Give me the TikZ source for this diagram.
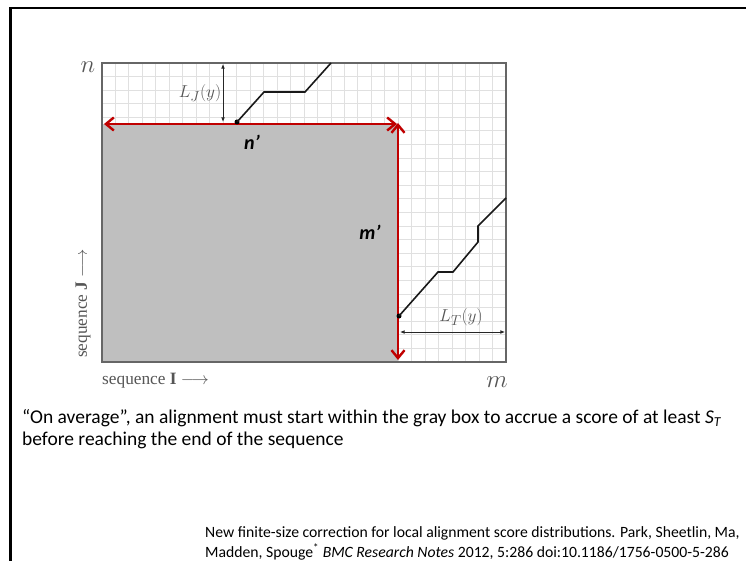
\documentclass[tikz,border=0pt]{standalone}
\usepackage{fontspec}
\setmainfont{Carlito}
\newfontfamily\figfont{Liberation Serif}
\usepackage{tikz}
\usetikzlibrary{arrows.meta,positioning,calc}
\definecolor{slidered}{HTML}{C00000}
\definecolor{boxgray}{HTML}{BFBFBF}
\definecolor{gridgray}{HTML}{E0E0E0}
\definecolor{labelgray}{HTML}{555555}
\tikzset{
  frameline/.style={line width=2.6pt, draw=black},
  gridline/.style={draw=gridgray, line width=0.9pt},
  plotframe/.style={draw=black!60, line width=1.4pt},
  redarrow/.style={{Straight Barb[length=2.8mm,width=4.6mm]}-{Straight Barb[length=2.8mm,width=4.6mm]}, draw=slidered, line width=2.4pt},
  walk/.style={draw=black!90, line width=1.6pt},
  dimarrow/.style={{Latex[length=1.6mm,width=1.3mm]}-{Latex[length=1.6mm,width=1.3mm]}, draw=black!85, line width=0.8pt},
  axislabel/.style={font=\figfont\fontsize{17.3}{18}\selectfont, text=labelgray, inner sep=0pt},
  primelabel/.style={font=\fontsize{20}{22}\selectfont\bfseries\itshape, inner sep=0pt},
  dot/.style={circle, fill=black, inner sep=0pt, minimum size=5pt}
}
\begin{document}
\begin{tikzpicture}[x=1pt, y=-1pt]
  \useasboundingbox (0,0) rectangle (746,561);
  \draw[frameline] (10.5,570) -- (10.5,8) -- (760,8);

  % grid and gray region
  \coordinate (nw) at (102,63);
  \coordinate (se) at (506,362);
  \coordinate (boxtl) at (102,124);
  \coordinate (boxbr) at (398,362);
  \foreach \k in {1,...,29} \draw[gridline] (102+13.47*\k,63) -- (102+13.47*\k,362);
  \foreach \k in {1,...,21} \draw[gridline] (102,63+13.59*\k) -- (506,63+13.59*\k);
  \fill[boxgray] (boxtl) rectangle (boxbr);
  \draw[plotframe] (nw) rectangle (se);

  % red extents
  \coordinate (hl) at (104,124);
  \coordinate (hr) at (397,124);
  \coordinate (vt) at (398,123);
  \coordinate (vb) at (398,360);
  \draw[redarrow] (hl) -- (hr);
  \draw[redarrow] (vt) -- (vb);

  % alignment walks
  \node[dot] (startJ) at (237,122) {};
  \node[dot] (startT) at (399,316) {};
  \coordinate (endJ) at (331,63);
  \coordinate (endT) at (506,198);
  \draw[walk] (startJ.center) -- (264,92) -- (305,92) -- (endJ);
  \draw[walk] (startT.center) -- (438,272) -- (453,272) -- (478,242) -- (478,226) -- (endT);

  % distances
  \coordinate (ljtop) at (223,64);
  \coordinate (ljbot) at (223,122);
  \coordinate (ltl) at (400,332);
  \coordinate (ltr) at (505,332);
  \draw[dimarrow] (ljtop) -- (ljbot);
  \draw[dimarrow] (ltl) -- (ltr);
  \node[axislabel, font=\fontsize{19}{20}\selectfont] (lj) at (200,93) {$L_{J}(y)$};
  \node[axislabel, font=\fontsize{19}{20}\selectfont] (lt) at (461,317) {$L_{T}(y)$};

  % labels
  \node[primelabel] (nprime) at (252,142) {n'};
  \node[primelabel] (mprime) at (370,232) {m'};
  \node[axislabel, font=\fontsize{25}{25}\selectfont] (nlab) at (88,67) {$n$};
  \node[axislabel, font=\fontsize{25}{25}\selectfont] (mlab) at (497,382) {$m$};
  \node[axislabel, anchor=west] (seqI) at (102,381) {sequence \textbf{I} $\longrightarrow$};
  \node[axislabel, rotate=90, anchor=west] (seqJ) at (83,358) {sequence \textbf{J} $\longrightarrow$};

  % caption and reference
  \node[anchor=north west, align=left, inner sep=0pt, font=\fontsize{19.5}{22}\selectfont] (caption) at (22,409)
    {``On average'', an alignment must start within the gray box to accrue a score of at least \textit{S}\textsubscript{\textit{T}}\\
     before reaching the end of the sequence};
  \node[anchor=north west, align=left, inner sep=0pt, font=\fontsize{15.7}{20}\selectfont] (source) at (205,526)
    {New finite-size correction for local alignment score distributions. Park, Sheetlin, Ma,\\
     Madden, Spouge\textsuperscript{*} \textit{BMC Research Notes} 2012, 5:286 doi:10.1186/1756-0500-5-286};
\end{tikzpicture}
\end{document}
